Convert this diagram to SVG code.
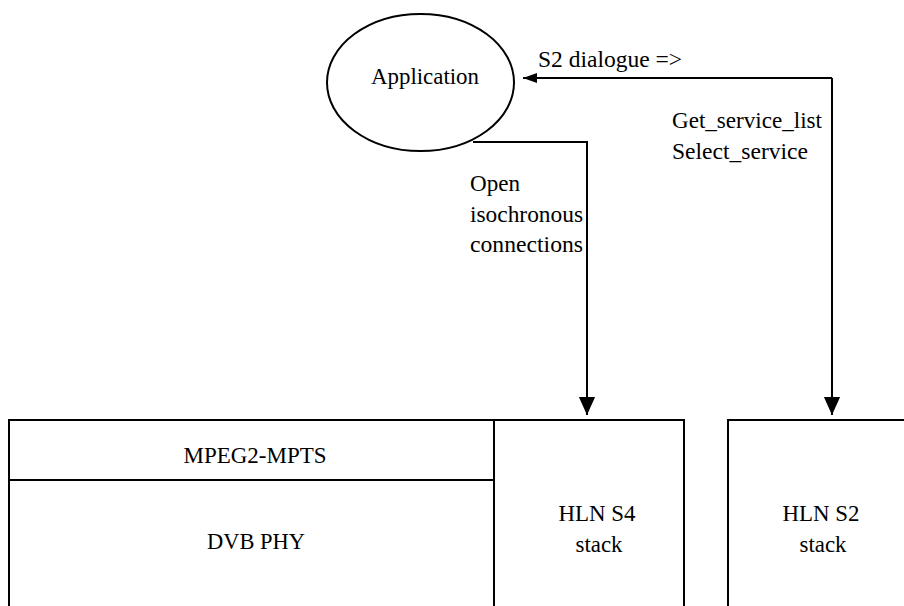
<svg xmlns="http://www.w3.org/2000/svg" width="904" height="606" viewBox="0 0 904 606">
<style>
  .shape { fill: none; stroke: #000; stroke-width: 2; }
  .conn { fill: none; stroke: #000; stroke-width: 2; }
</style>
<defs>
  <marker id="arr" markerWidth="18" markerHeight="20" refX="20" refY="9" orient="auto" markerUnits="userSpaceOnUse" viewBox="0 0 20 18">
    <path d="M0,0 L20,9 L0,18 Z" fill="#000"/>
  </marker>
  <marker id="arrs" markerWidth="14" markerHeight="10" refX="14" refY="5" orient="auto" markerUnits="userSpaceOnUse" viewBox="0 0 14 10">
    <path d="M0,0 L14,5 L0,10 Z" fill="#000"/>
  </marker>
</defs>
<rect width="904" height="606" fill="#fff"/>
<g id="application">
  <ellipse class="shape" cx="420.5" cy="82.5" rx="93.5" ry="68.5"/>
  <text x="425" y="84" text-anchor="middle" font-family="Liberation Serif, serif" font-size="24" textLength="108" lengthAdjust="spacingAndGlyphs">Application</text>
</g>
<g id="connectors">
  <path class="conn" d="M473,142 H587 V415" marker-end="url(#arr)"/>
  <path class="conn" d="M832,78 H523" marker-end="url(#arrs)"/>
  <path class="conn" d="M832,78 V415" marker-end="url(#arr)"/>
  <text x="538" y="67" font-family="Liberation Serif, serif" font-size="24" textLength="144" lengthAdjust="spacingAndGlyphs">S2 dialogue =&gt;</text>
  <text x="672" y="128" font-family="Liberation Serif, serif" font-size="24" textLength="150" lengthAdjust="spacingAndGlyphs">Get_service_list</text>
  <text x="672" y="159" font-family="Liberation Serif, serif" font-size="24" textLength="136" lengthAdjust="spacingAndGlyphs">Select_service</text>
  <text x="470" y="191" font-family="Liberation Serif, serif" font-size="24" textLength="50" lengthAdjust="spacingAndGlyphs">Open</text>
  <text x="470" y="222" font-family="Liberation Serif, serif" font-size="24" textLength="113" lengthAdjust="spacingAndGlyphs">isochronous</text>
  <text x="470" y="252" font-family="Liberation Serif, serif" font-size="24" textLength="113" lengthAdjust="spacingAndGlyphs">connections</text>
</g>
<g id="mpeg2-mpts">
  <rect class="shape" x="9" y="420" width="485" height="60"/>
  <text x="255" y="463" text-anchor="middle" font-family="Liberation Serif, serif" font-size="24" textLength="143" lengthAdjust="spacingAndGlyphs">MPEG2-MPTS</text>
</g>
<g id="dvb-phy">
  <rect class="shape" x="9" y="480" width="485" height="140"/>
  <text x="256" y="549" text-anchor="middle" font-family="Liberation Serif, serif" font-size="24" textLength="98" lengthAdjust="spacingAndGlyphs">DVB PHY</text>
</g>
<g id="hln-s4">
  <rect class="shape" x="494" y="420" width="190" height="200"/>
  <text x="597" y="521" text-anchor="middle" font-family="Liberation Serif, serif" font-size="24" textLength="77" lengthAdjust="spacingAndGlyphs">HLN S4</text>
  <text x="599" y="552" text-anchor="middle" font-family="Liberation Serif, serif" font-size="24" textLength="47" lengthAdjust="spacingAndGlyphs">stack</text>
</g>
<g id="hln-s2">
  <rect class="shape" x="728" y="420" width="200" height="200"/>
  <text x="821" y="521" text-anchor="middle" font-family="Liberation Serif, serif" font-size="24" textLength="77" lengthAdjust="spacingAndGlyphs">HLN S2</text>
  <text x="823" y="552" text-anchor="middle" font-family="Liberation Serif, serif" font-size="24" textLength="47" lengthAdjust="spacingAndGlyphs">stack</text>
</g>
</svg>
